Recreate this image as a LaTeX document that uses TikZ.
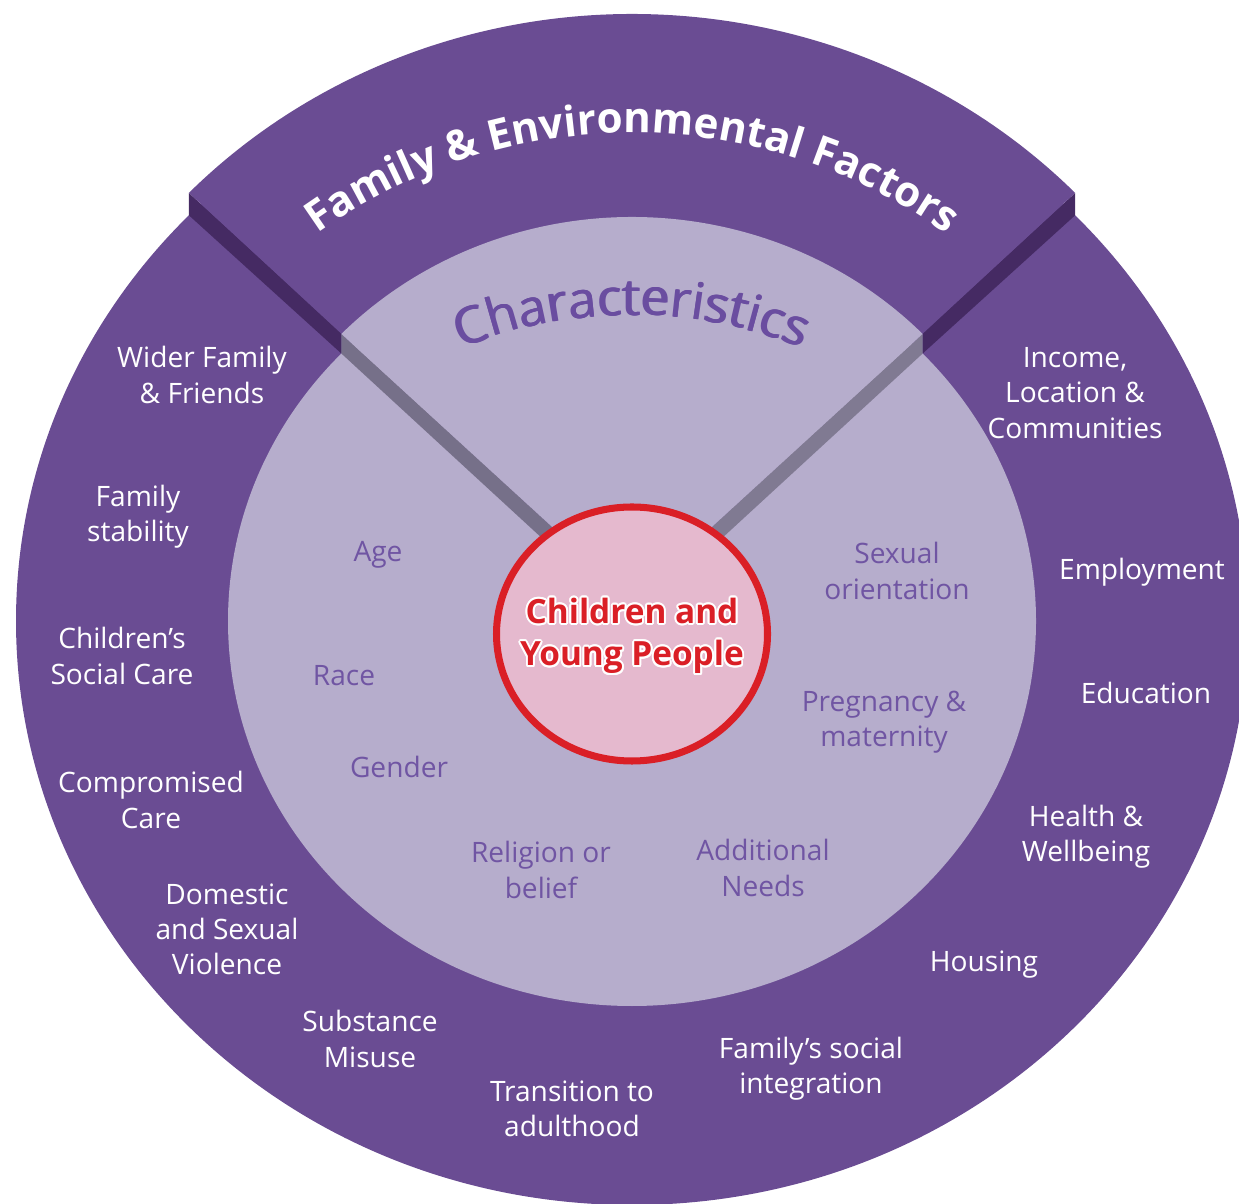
\documentclass[tikz,border=0pt]{standalone}
\usepackage{fontspec}
\setmainfont{Open Sans}
\usepackage{contour}
\contourlength{1.1pt}
\usepackage{tikz}
\usetikzlibrary{decorations.text}

\definecolor{ringpurple}{HTML}{6A4C93}
\definecolor{facedark}{HTML}{452A63}
\definecolor{lavender}{HTML}{B6ADCC}
\definecolor{facegreyl}{HTML}{767089}
\definecolor{facegreyr}{HTML}{807A92}
\definecolor{innerpurple}{HTML}{7055A3}
\definecolor{charpurple}{HTML}{6A4DA0}
\definecolor{cypred}{HTML}{DA1F26}
\definecolor{cyppink}{HTML}{E5B9CE}

\begin{document}
\begin{tikzpicture}[x=0.02cm,y=0.02cm,
    outerlbl/.style={text=white,font=\fontsize{16}{20}\selectfont,align=center},
    innerlbl/.style={text=innerpurple,font=\fontsize{16}{20}\selectfont,align=center}]

        \clip (0,0) rectangle (1239,1203);

        \coordinate (lc) at (632,582);
        \coordinate (wc) at (632,603);

        % lower ring and disc
        \fill[ringpurple] (lc) ellipse [x radius=616, y radius=584];
        \fill[lavender]   (lc) ellipse [x radius=404, y radius=385];

        \path (wc) ++(136:616 and 586) coordinate (wlo);
        \path (wc) ++(136:404 and 383) coordinate (wli);
        \path (lc) ++(136:616 and 584) coordinate (llo);
        \path (lc) ++(136:404 and 385) coordinate (lli);
        \path (wc) ++(44:616 and 586)  coordinate (wro);
        \path (wc) ++(44:404 and 383)  coordinate (wri);
        \path (lc) ++(44:616 and 584)  coordinate (lro);
        \path (lc) ++(44:404 and 385)  coordinate (lri);

        % side faces of the raised wedge
        \fill[facedark]  (wlo) -- (wli) -- (lli) -- (llo) -- cycle;
        \fill[facedark]  (wro) -- (wri) -- (lri) -- (lro) -- cycle;
        \fill[facegreyl] (wli) -- (wc) -- (lc) -- (lli) -- cycle;
        \fill[facegreyr] (wri) -- (wc) -- (lc) -- (lri) -- cycle;

        % raised wedge
        \fill[ringpurple] (wc) -- (wlo) arc[start angle=136, end angle=44, x radius=616, y radius=586] -- cycle;
        \fill[lavender]   (wc) -- (wli) arc[start angle=136, end angle=44, x radius=404, y radius=383] -- cycle;

        \path[decorate,decoration={text along path,text align=center,
            text={|\fontsize{24}{30}\bfseries\color{white}|Family {\&} Environmental Factors}}]
            (632,530) ++(128:540) arc[start angle=128, end angle=52, radius=540];
        \foreach \s in {-0.45pt,0pt,0.45pt}
          \path[xshift=\s,decorate,decoration={text along path,text align=center,
              text={|\fontsize{29}{34}\selectfont\color{charpurple}|Characteristics}}]
              (632,436) ++(118:452) arc[start angle=118, end angle=62, radius=452];

        % centre
        \filldraw[fill=cyppink,draw=cypred,line width=4pt] (632,569) ellipse [x radius=135.5, y radius=127];
        \node[text=cypred,font=\fontsize{19}{24}\bfseries,align=center] (cyp) at (632,566)
            {\contour{white}{Children and}\\\contour{white}{Young People}};

        \node[outerlbl] (wider)   at (202,828) {Wider Family\\\& Friends};
        \node[outerlbl] (stab)    at (138,686) {Family\\stability};
        \node[outerlbl] (csc)     at (122,547) {Children’s\\Social Care};
        \node[outerlbl] (comp)    at (151,403) {Compromised\\Care};
        \node[outerlbl] (dsv)     at (227,274) {Domestic\\and Sexual\\Violence};
        \node[outerlbl] (subst)   at (370,164) {Substance\\Misuse};
        \node[outerlbl] (trans)   at (572,94)  {Transition to\\adulthood};
        \node[outerlbl] (integ)   at (811,134) {Family’s social\\integration};
        \node[outerlbl] (housing) at (984,238) {Housing};
        \node[outerlbl] (health)  at (1086,366) {Health \&\\Wellbeing};
        \node[outerlbl] (educ)    at (1146,510) {Education};
        \node[outerlbl] (employ)  at (1142,631) {Employment};
        \node[outerlbl] (income)  at (1075,810) {Income,\\Location \&\\Communities};

        \node[innerlbl] (age)     at (378,648) {Age};
        \node[innerlbl] (race)    at (344,527) {Race};
        \node[innerlbl] (gender)  at (399,436) {Gender};
        \node[innerlbl] (relig)   at (541,333) {Religion or\\belief};
        \node[innerlbl] (needs)   at (763,335) {Additional\\Needs};
        \node[innerlbl] (preg)    at (884,481) {Pregnancy \&\\maternity};
        \node[innerlbl] (sexual)  at (897,632) {Sexual\\orientation};
      \end{tikzpicture}
\end{document}
